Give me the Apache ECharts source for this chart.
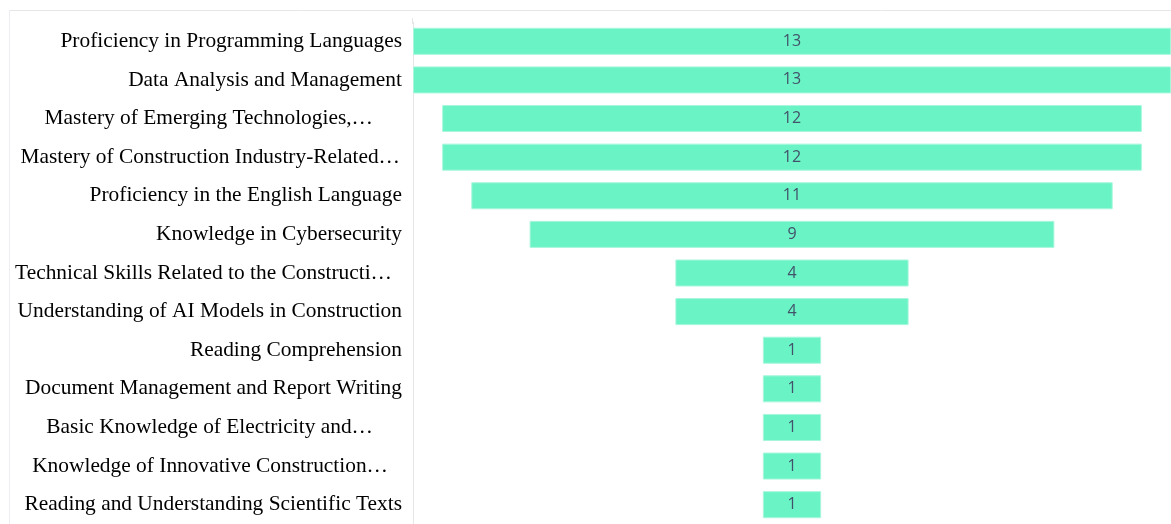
<!DOCTYPE html>
<html>
<head>
<meta charset="utf-8">
<script src="https://cdn.jsdelivr.net/npm/echarts@6/dist/echarts.min.js"></script>
<style>
  html, body { margin: 0; padding: 0; background: #fff; }
  #main { width: 1171px; height: 524px; }
</style>
</head>
<body>
<div id="main"></div>
<script>
// skills as shown on the axis (top to bottom)
const skills = [
  'Proficiency in Programming Languages',
  'Data Analysis and Management',
  'Mastery of Emerging Technologies,…',
  'Mastery of Construction Industry-Related…',
  'Proficiency in the English Language',
  'Knowledge in Cybersecurity',
  'Technical Skills Related to the Constructi…',
  'Understanding of AI Models in Construction',
  'Reading Comprehension',
  'Document Management and Report Writing',
  'Basic Knowledge of Electricity and…',
  'Knowledge of Innovative Construction…',
  'Reading and Understanding Scientific Texts'
];
const counts = [13, 13, 12, 12, 11, 9, 4, 4, 1, 1, 1, 1, 1];

// extra gap right of the truncated labels (style only)
const labelGap = [0, 0, 29, 2, 0, 0, 10, 0, 0, 0, 29, 14, 0];

const maxCount = Math.max(...counts);
// invisible spacer so each bar sits centred (funnel look)
const spacer = counts.map(v => (maxCount - v) / 2);

const chart = echarts.init(document.getElementById('main'));

const rich = {};
labelGap.forEach((g, i) => {
  rich['r' + i] = {
    fontFamily: 'Liberation Serif',
    fontSize: 21.4,
    color: '#000',
    padding: [0, g, 0, 0]
  };
});

const option = {
  animation: false,
  grid: { left: 413, right: 0, top: 22, bottom: 0, containLabel: false },
  xAxis: {
    type: 'value',
    min: 0,
    max: maxCount,
    show: false
  },
  yAxis: {
    type: 'category',
    inverse: true,
    data: skills,
    axisLine: { show: true, lineStyle: { color: '#e6e6e6', width: 1 } },
    axisTick: { show: false },
    splitLine: { show: false },
    axisLabel: {
      margin: 11,
      fontFamily: 'Liberation Serif',
      fontSize: 21.4,
      color: '#000',
      formatter: (val, idx) => '{r' + idx + '|' + val + '}',
      rich: rich
    }
  },
  graphic: [
    { type: 'line', shape: { x1: 9, y1: 10.5, x2: 1171, y2: 10.5 }, style: { stroke: '#e6e6e6', lineWidth: 1 } },
    { type: 'line', shape: { x1: 9.5, y1: 10, x2: 9.5, y2: 524 }, style: { stroke: '#eceef2', lineWidth: 1 } },
    { type: 'line', shape: { x1: 412.5, y1: 18, x2: 412.5, y2: 24 }, style: { stroke: '#e6e6e6', lineWidth: 1 } }
  ],
  series: [
    {
      type: 'bar',
      stack: 'funnel',
      data: spacer,
      itemStyle: { color: 'transparent' },
      silent: true,
      barCategoryGap: '30%'
    },
    {
      type: 'bar',
      stack: 'funnel',
      data: counts,
      barCategoryGap: '30%',
      itemStyle: {
        color: '#6af3c5',
        borderColor: '#a8f7dc',
        borderWidth: 1
      },
      label: {
        show: true,
        position: 'inside',
        fontFamily: 'Open Sans',
        fontSize: 16,
        color: '#42526a'
      }
    }
  ]
};

chart.setOption(option);
</script>
</body>
</html>
